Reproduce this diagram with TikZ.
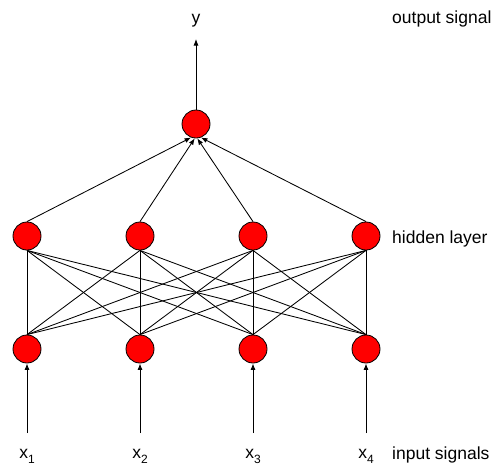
\documentclass[tikz,border=0pt]{standalone}
\usepackage{fontspec}
\setmainfont{Liberation Sans}
\usetikzlibrary{arrows.meta}
\begin{document}
\begin{tikzpicture}[x=1pt,y=-1pt,
  neuron/.style={circle,draw=black,line width=0.8pt,fill=red,minimum size=28pt,inner sep=0pt},
  lbl/.style={inner sep=0pt,font=\fontsize{17.5}{20}\selectfont},
  conn/.style={line width=0.85pt,draw=black},
  arr/.style={conn,-{Latex[length=6.5pt,width=5pt]}}]
\useasboundingbox (0,0) rectangle (495,469);
% nodes
\foreach \i/\x in {1/27,2/140,3/253,4/366}{
  \node[neuron] (b\i) at (\x,349) {};
  \node[neuron] (h\i) at (\x,236) {};
  \coordinate (s\i) at (\x,433);
}
\node[neuron] (out) at (196,124) {};
\coordinate (ytip) at (196,39);
% labels
\node[lbl,anchor=base] (ylab) at (196,23) {y};
\node[lbl,anchor=base west] (os) at (392,23) {output signal};
\node[lbl,anchor=base west] (hl) at (392,243) {hidden layer};
\node[lbl,anchor=base west] (is) at (392,459) {input signals};
\foreach \i/\x in {1/27,2/140,3/253,4/366}{
  \node[lbl,anchor=base] (x\i) at (\x,458) {x\raisebox{-0.6ex}{\fontsize{12}{12}\selectfont\i}};
}
% connections
\foreach \i in {1,...,4}{
  \foreach \j in {1,...,4}{
    \draw[conn] (b\i.north) -- (h\j.south);
  }
  \draw[arr] (s\i) -- (b\i.south);
}
\draw[arr] (h1.north) -- (out.250);
\draw[arr] (h2.north) -- (out.265);
\draw[arr] (h3.north) -- (out.275);
\draw[arr] (h4.north) -- (out.290);
\draw[arr] (out.north) -- (ytip);
\end{tikzpicture}
\end{document}
